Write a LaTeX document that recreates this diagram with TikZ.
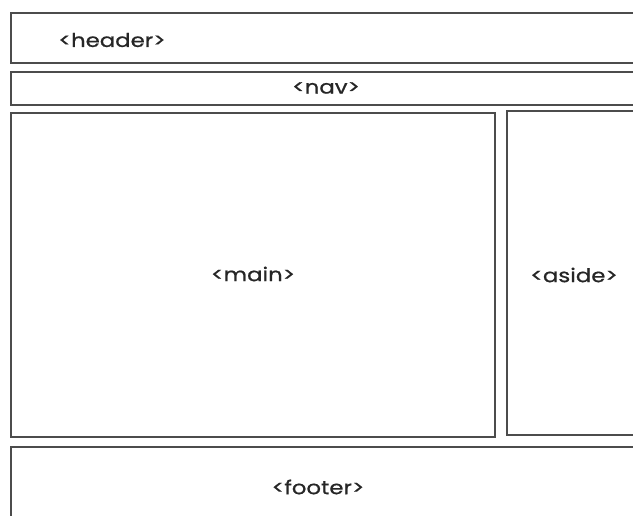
\documentclass[tikz,border=0pt]{standalone}
\usepackage{fontspec}
\setmainfont{Poppins}[FakeStretch=1.2, FakeBold=0.8]
\begin{document}
\begin{tikzpicture}[
        x=1pt, y=-1pt,
        block/.style={draw=black!70, line width=1.6pt, inner sep=0pt, anchor=north west},
        tag/.style={font=\fontsize{19}{19}\selectfont, text=black!85}
    ]
        \useasboundingbox (0,0) rectangle (633,515);
        \clip (0,0) rectangle (633,515);

        \node [block, minimum width=640pt, minimum height=50pt] (header) at (10,12) {};
        \node [block, minimum width=634pt, minimum height=33pt] (nav) at (10,71) {};
        \node [block, minimum width=484pt, minimum height=324pt] (main) at (10,112) {};
        \node [block, minimum width=136pt, minimum height=324pt] (aside) at (506,110) {};
        \node [block, minimum width=640pt, minimum height=90pt] (footer) at (10,446) {};

        \node [tag] (headertext) at (112,40) {<header>};
        \node [tag] (navtext)    at (326,88) {<nav>};
        \node [tag] (maintext)   at (253,274) {<main>};
        \node [tag] (asidetext)  at (574,275) {<aside>};
        \node [tag] (footertext) at (318,487) {<footer>};
    \end{tikzpicture}
\end{document}
